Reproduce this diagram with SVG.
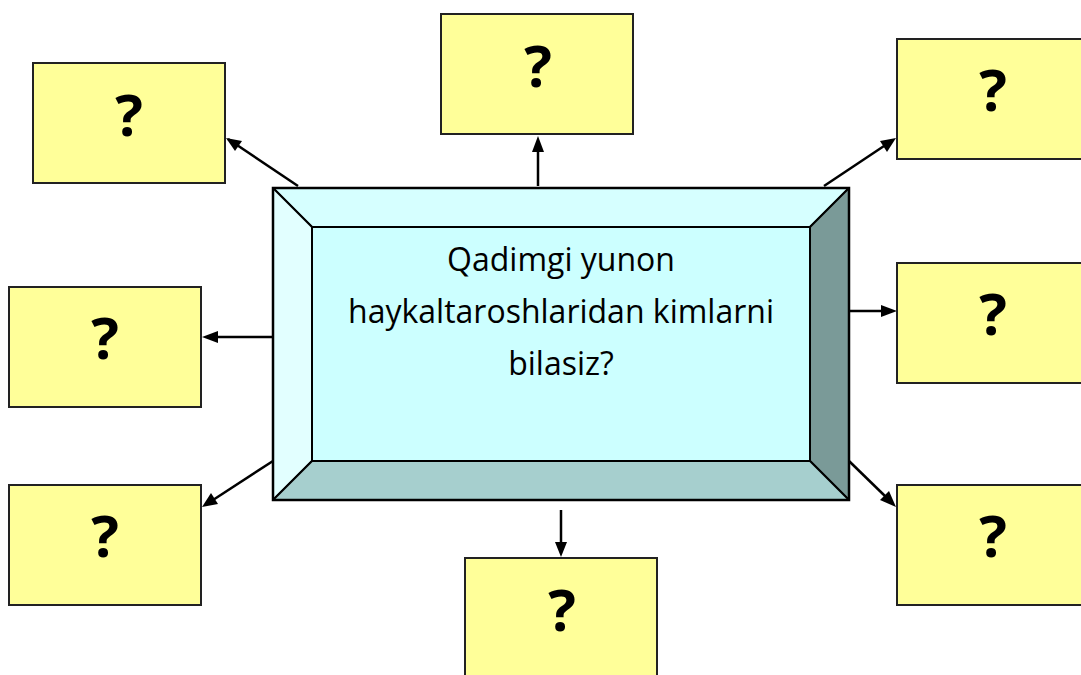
<svg xmlns="http://www.w3.org/2000/svg" width="1081" height="675" viewBox="0 0 1081 675">
<defs>
<style>
.box{fill:#FFFF99;stroke:#222;stroke-width:2}
.q{font-family:"Open Sans","Liberation Sans",sans-serif;font-weight:bold;font-size:58px;fill:#000;text-anchor:middle}
.t{font-family:"Open Sans","Liberation Sans",sans-serif;font-size:32px;fill:#000;text-anchor:middle}
.c{stroke:#000;stroke-width:2.5;fill:none}
.bv{stroke:#000;stroke-width:2;stroke-linejoin:round}
</style>
</defs>
<rect width="1081" height="675" fill="#fff"/>
<g id="connectors">
<line class="c" x1="298" y1="186" x2="228" y2="139"/>
<path d="M226,138 L242,141 L235,151 z" fill="#000"/>
<line class="c" x1="538" y1="186" x2="538" y2="150"/>
<path d="M538,136 L544,152 L532,152 z" fill="#000"/>
<line class="c" x1="824" y1="186" x2="884" y2="146"/>
<path d="M896,138 L887,152 L880,141 z" fill="#000"/>
<line class="c" x1="273" y1="337" x2="215" y2="337"/>
<path d="M202,337 L218,331 L218,343 z" fill="#000"/>
<line class="c" x1="849" y1="311" x2="884" y2="311"/>
<path d="M897,311 L881,305 L881,317 z" fill="#000"/>
<line class="c" x1="273" y1="461" x2="213" y2="500"/>
<path d="M202,507 L211,493 L218,504 z" fill="#000"/>
<line class="c" x1="849" y1="461" x2="886" y2="497"/>
<path d="M896,507 L880,500 L889,491 z" fill="#000"/>
<line class="c" x1="561" y1="510" x2="561" y2="545"/>
<path d="M561,557 L555,542 L567,542 z" fill="#000"/>
</g>
<g id="center">
<polygon class="bv" points="273,188 849,188 810,227 312,227" fill="#D6FFFF"/>
<polygon class="bv" points="273,188 312,227 312,461 273,500" fill="#E2FFFF"/>
<polygon class="bv" points="849,188 849,500 810,461 810,227" fill="#7A9A98"/>
<polygon class="bv" points="273,500 312,461 810,461 849,500" fill="#A6CFCE"/>
<rect x="312" y="227" width="498" height="234" fill="#CCFFFF" stroke="#000" stroke-width="2"/>
<rect x="273" y="188" width="576" height="312" fill="none" stroke="#000" stroke-width="2.5"/>
<text class="t" x="561" y="271">Qadimgi yunon</text>
<text class="t" x="561" y="323">haykaltaroshlaridan kimlarni</text>
<text class="t" x="561" y="375">bilasiz?</text>
</g>
<g id="n-tl"><rect class="box" x="33" y="63" width="192" height="120"/><text class="q" x="129" y="136">?</text></g>
<g id="n-top"><rect class="box" x="441" y="14" width="192" height="120"/><text class="q" x="538" y="87">?</text></g>
<g id="n-tr"><rect class="box" x="897" y="39" width="192" height="120"/><text class="q" x="993" y="111">?</text></g>
<g id="n-ml"><rect class="box" x="9" y="287" width="192" height="120"/><text class="q" x="105" y="359">?</text></g>
<g id="n-mr"><rect class="box" x="897" y="263" width="192" height="120"/><text class="q" x="993" y="335">?</text></g>
<g id="n-bl"><rect class="box" x="9" y="485" width="192" height="120"/><text class="q" x="105" y="557">?</text></g>
<g id="n-br"><rect class="box" x="897" y="485" width="192" height="120"/><text class="q" x="993" y="557">?</text></g>
<g id="n-bottom"><rect class="box" x="465" y="558" width="192" height="120"/><text class="q" x="562" y="631">?</text></g>
</svg>
